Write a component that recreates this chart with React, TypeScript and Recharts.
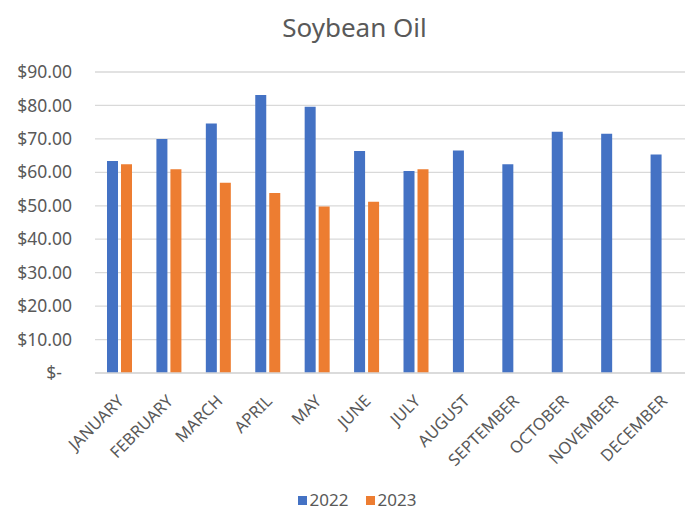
import React from "react";
import { BarChart, Bar, XAxis, YAxis, CartesianGrid, Legend } from "recharts";

const months = [
  "JANUARY", "FEBRUARY", "MARCH", "APRIL", "MAY", "JUNE",
  "JULY", "AUGUST", "SEPTEMBER", "OCTOBER", "NOVEMBER", "DECEMBER",
];
const prices2022 = [63.4, 70.0, 74.6, 83.1, 79.6, 66.4, 60.4, 66.5, 62.4, 72.1, 71.5, 65.3];
const prices2023: (number | null)[] = [62.4, 60.9, 56.9, 53.8, 49.8, 51.2, 60.9, null, null, null, null, null];
const yTicks = [0, 10, 20, 30, 40, 50, 60, 70, 80, 90];

const FONT = "'Noto Sans', 'Open Sans', sans-serif";
const TEXT = "#595959";
const BLUE = "#4472C4";
const ORANGE = "#ED7D31";

const data = months.map((m, i) => ({
  month: m,
  y2022: prices2022[i],
  y2023: prices2023[i],
}));

const formatDollar = (v: number) => (v === 0 ? "$-" : `$${v.toFixed(2)}`);

const YTick = ({ x, y, payload }: any) => (
  <text
    x={x}
    y={y}
    dx={payload.value === 0 ? -10 : 0}
    dy="0.35em"
    textAnchor="end"
    fill={TEXT}
    fontSize={17.5}
    fontFamily={FONT}
  >
    {formatDollar(payload.value)}
  </text>
);

// month names slanted 45° so their ends sit just under each category
const XTick = ({ x, y, payload }: any) => {
  const ax = x + 1;
  const ay = y + 17;
  return (
    <text
      x={ax}
      y={ay}
      dy="0.35em"
      textAnchor="end"
      transform={`rotate(-45, ${ax}, ${ay})`}
      fill={TEXT}
      fontSize={16.5}
      fontFamily={FONT}
    >
      {payload.value}
    </text>
  );
};

const LegendRow = () => {
  const items = [
    { label: "2022", color: BLUE },
    { label: "2023", color: ORANGE },
  ];
  return (
    <div
      style={{
        display: "flex",
        justifyContent: "center",
        gap: 17,
        fontFamily: FONT,
        fontSize: 17,
        color: TEXT,
        lineHeight: "20px",
        paddingLeft: 18,
        paddingBottom: 4,
      }}
    >
      {items.map((it) => (
        <div key={it.label} style={{ display: "flex", alignItems: "center" }}>
          <span style={{ width: 9, height: 9, background: it.color, marginRight: 3 }} />
          <span>{it.label}</span>
        </div>
      ))}
    </div>
  );
};

export default function App() {
  return (
    <div style={{ position: "relative", width: 685, height: 506, background: "#fff" }}>
      <div
        style={{
          position: "absolute",
          top: 5,
          left: 0,
          width: 693,
          textAlign: "center",
          fontFamily: FONT,
          fontSize: 26,
          lineHeight: "28px",
          color: TEXT,
        }}
      >
        Soybean Oil
      </div>
      <BarChart
        width={685}
        height={506}
        data={data}
        margin={{ top: 64, right: 5, bottom: 0, left: 0 }}
        barSize={11}
        barGap={3}
      >
        <CartesianGrid vertical={false} stroke="#d9d9d9" strokeWidth={1.3} />
        <XAxis
          dataKey="month"
          interval={0}
          height={117}
          tickLine={false}
          axisLine={{ stroke: "#d9d9d9", strokeWidth: 1.3 }}
          tick={<XTick />}
        />
        <YAxis
          width={87}
          domain={[0, 90]}
          ticks={yTicks}
          tickLine={false}
          axisLine={false}
          tickSize={0}
          tickMargin={23}
          tick={<YTick />}
        />
        <Legend verticalAlign="bottom" height={24} content={<LegendRow />} />
        <Bar dataKey="y2022" name="2022" fill={BLUE} isAnimationActive={false} />
        <Bar dataKey="y2023" name="2023" fill={ORANGE} isAnimationActive={false} />
      </BarChart>
    </div>
  );
}
